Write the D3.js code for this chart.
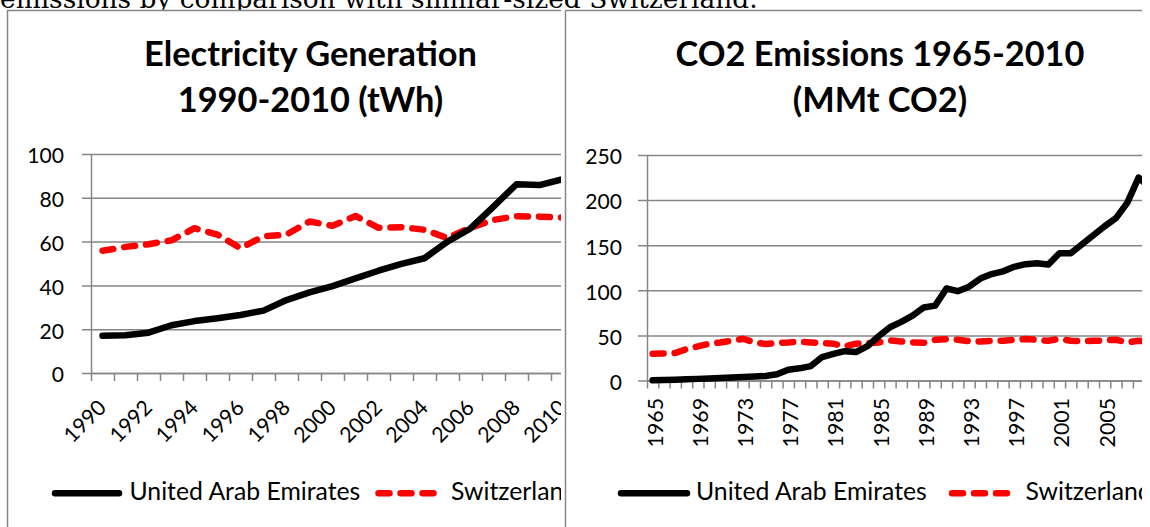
<!DOCTYPE html>
<html>
<head>
<meta charset="utf-8">
<script src="https://cdn.jsdelivr.net/npm/d3@7"></script>
<style>
  body { margin: 0; background: #fff; }
  svg { display: block; }
</style>
</head>
<body>
<div id="page"></div>
<script>
// ---- data ----
var elecYears = ["1990","1991","1992","1993","1994","1995","1996","1997","1998","1999","2000",
  "2001","2002","2003","2004","2005","2006","2007","2008","2009","2010"];
var elecUAE = [17, 17.2, 18.4, 21.8, 23.7, 25, 26.5, 28.5, 33.3, 36.8, 39.7,
  43.2, 46.7, 49.8, 52.4, 60, 66, 76, 86.2, 85.8, 88.5];
var elecSwiss = [55.8, 57.6, 58.8, 60.6, 66.1, 63.2, 57, 62.4, 63.2, 69.2, 67.2,
  71.7, 66.3, 66.6, 65.4, 61.6, 66.4, 69.9, 71.6, 71.4, 71];
var elecTicks = [0, 20, 40, 60, 80, 100];
var elecLabels = ["1990","1992","1994","1996","1998","2000","2002","2004","2006","2008","2010"];

var co2Years = ["1965","1966","1967","1968","1969","1970","1971","1972","1973","1974",
  "1975","1976","1977","1978","1979","1980","1981","1982","1983","1984",
  "1985","1986","1987","1988","1989","1990","1991","1992","1993","1994",
  "1995","1996","1997","1998","1999","2000","2001","2002","2003","2004",
  "2005","2006","2007","2008","2009","2010"];
var co2UAE = [0.2, 0.5, 0.9, 1.3, 1.8, 2.3, 2.8, 3.3, 3.9, 4.4,
  5.0, 7, 12, 13.5, 16, 26, 29.5, 32.5, 31.5, 38,
  49, 59, 65, 72, 81, 83, 102, 99, 104, 113,
  118, 121, 126, 129, 130, 128.5, 141, 141, 151, 161,
  171, 180, 197, 225, 214, 226];
var co2Swiss = [29.6, 30, 30.5, 34.8, 37.8, 40.8, 42.2, 44, 46.3, 42.2,
  40.4, 41.8, 42.2, 43, 42.2, 41.5, 40.8, 37.8, 40.8, 41.5,
  42.2, 44.4, 43.3, 42.2, 41.8, 45.2, 45.9, 45.2, 43.7, 43.3,
  44, 44, 45.2, 45.9, 45.2, 44, 46.3, 44, 43.7, 44,
  44.4, 45.2, 42.2, 44, 43, 44];
var co2Ticks = [0, 50, 100, 150, 200, 250];
var co2Labels = ["1965","1969","1973","1977","1981","1985","1989","1993","1997","2001","2005","2009"];

var seriesNames = ["United Arab Emirates", "Switzerland"];
var headerText = "emissions by comparison with similar-sized Switzerland.";

// ---- page ----
var gray = "#868686";
var font = "Lato, 'Open Sans', sans-serif";
var lineW = 6.5;

var svg = d3.select("#page").append("svg")
  .attr("width", 1150)
  .attr("height", 527);

// measure a string and return the font size that makes it the given width
function fitSize(txt, family, weight, base, target) {
  var t = svg.append("text")
    .attr("font-family", family)
    .attr("font-weight", weight)
    .attr("font-size", base)
    .text(txt);
  var w = t.node().getComputedTextLength();
  t.remove();
  return base * target / w;
}

var titleSize = fitSize("Electricity Generation", font, 700, 30, 333);
var legendSize = fitSize(seriesNames[0], font, 400, 21, 231);
var yTickSize = fitSize("100", font, 400, 21, 36.7);
var xTickSize = fitSize("2000", font, 400, 21, 49.5);
var headerSize = fitSize(headerText, "'DejaVu Serif', serif", 400, 28, 758);

// document text above the charts (mostly hidden behind them)
svg.append("text")
  .attr("x", 0)
  .attr("y", 8)
  .attr("font-family", "'DejaVu Serif', serif")
  .attr("font-size", headerSize)
  .text(headerText);

var defs = svg.append("defs");
defs.append("clipPath").attr("id", "clipL")
  .append("rect").attr("x", 0).attr("y", 0).attr("width", 561).attr("height", 527);
defs.append("clipPath").attr("id", "clipR")
  .append("rect").attr("x", 563).attr("y", 0).attr("width", 579).attr("height", 527);

function drawChart(c) {
  var g = svg.append("g").attr("clip-path", "url(#" + c.clip + ")");

  // chart frame
  g.append("rect")
    .attr("x", c.frameX)
    .attr("y", 10.5)
    .attr("width", c.frameW)
    .attr("height", 600)
    .attr("fill", "#fff")
    .attr("stroke", gray)
    .attr("stroke-width", 1.5);

  var plotW = c.band * c.years.length;
  var x = d3.scaleBand().domain(c.years).range([c.plotX, c.plotX + plotW]);
  var y = d3.scaleLinear().domain([0, c.ticks[c.ticks.length - 1]]).range([c.plotBottom, c.plotTop]);

  // gridlines (with the small outside tick on the left)
  g.append("g")
    .attr("transform", `translate(${c.plotX - 9},0)`)
    .call(d3.axisRight(y).tickValues(c.ticks).tickSize(plotW + 9).tickFormat(""))
    .call(s => s.select(".domain").remove())
    .selectAll("line")
    .attr("stroke", gray)
    .attr("stroke-width", 1.5);

  // y axis + labels
  var yAxis = g.append("g")
    .attr("transform", `translate(${c.plotX},0)`)
    .call(d3.axisLeft(y).tickValues(c.ticks).tickSize(0).tickSizeOuter(0).tickPadding(c.yPad));
  yAxis.select(".domain").attr("stroke", gray).attr("stroke-width", 1.5);
  yAxis.selectAll("text")
    .attr("dy", "0.42em")
    .attr("font-family", font)
    .attr("font-size", yTickSize)
    .attr("fill", "#000");

  // x axis: ticks sit between categories
  var edge = d3.scaleLinear().domain([0, c.years.length]).range([c.plotX, c.plotX + plotW]);
  var xAxis = g.append("g")
    .attr("transform", `translate(0,${c.plotBottom})`)
    .call(d3.axisBottom(edge).tickValues(d3.range(c.years.length + 1)).tickSize(8).tickSizeOuter(0).tickFormat(""));
  xAxis.selectAll("line").attr("stroke", gray).attr("stroke-width", 1.5);
  xAxis.select(".domain").attr("stroke", gray).attr("stroke-width", 1.5);

  // category labels
  var xLab = g.append("g")
    .attr("transform", `translate(0,${c.plotBottom})`)
    .call(d3.axisBottom(x).tickValues(c.labels).tickSize(0));
  xLab.select(".domain").remove();
  xLab.selectAll("text")
    .attr("x", c.lab.dx)
    .attr("y", c.lab.dy)
    .attr("dy", 0)
    .attr("text-anchor", "end")
    .attr("transform", `rotate(${c.lab.rot},${c.lab.dx},${c.lab.dy})`)
    .attr("font-family", font)
    .attr("font-size", xTickSize)
    .attr("fill", "#000");

  // series
  var line = d3.line()
    .x((d, i) => x(c.years[i]) + x.bandwidth() / 2)
    .y(d => y(d));

  g.append("path")
    .datum(c.swiss)
    .attr("d", line)
    .attr("fill", "none")
    .attr("stroke", "#ff0000")
    .attr("stroke-width", lineW)
    .attr("stroke-dasharray", "11,11")
    .attr("stroke-linecap", "round")
    .attr("stroke-linejoin", "round");

  g.append("path")
    .datum(c.uae)
    .attr("d", line)
    .attr("fill", "none")
    .attr("stroke", "#000")
    .attr("stroke-width", lineW)
    .attr("stroke-linecap", "round")
    .attr("stroke-linejoin", "round");

  // title
  var title = g.append("text")
    .attr("text-anchor", "middle")
    .attr("font-family", font)
    .attr("font-weight", 700)
    .attr("font-size", titleSize)
    .attr("fill", "#000");
  c.title.forEach(function(t, i) {
    title.append("tspan").attr("x", c.titleX).attr("y", 65.7 + i * 46).text(t);
  });

  // legend
  var leg = g.append("g");
  leg.append("line")
    .attr("x1", c.leg[0]).attr("x2", c.leg[1])
    .attr("y1", 493.3).attr("y2", 493.3)
    .attr("stroke", "#000").attr("stroke-width", lineW).attr("stroke-linecap", "round");
  leg.append("line")
    .attr("x1", c.leg[3]).attr("x2", c.leg[4])
    .attr("y1", 493.3).attr("y2", 493.3)
    .attr("stroke", "#ff0000").attr("stroke-width", lineW)
    .attr("stroke-dasharray", "11,11").attr("stroke-linecap", "round");
  [c.leg[2], c.leg[5]].forEach(function(lx, i) {
    leg.append("text")
      .attr("x", lx)
      .attr("y", 500)
      .attr("font-family", font)
      .attr("font-size", legendSize)
      .attr("fill", "#000")
      .text(seriesNames[i]);
  });
}

drawChart({
  clip: "clipL", frameX: 7.5, frameW: 620,
  years: elecYears, uae: elecUAE, swiss: elecSwiss, ticks: elecTicks, labels: elecLabels,
  plotX: 91, band: 23, plotTop: 154, plotBottom: 373, yPad: 27,
  lab: {dx: 5, dy: 36, rot: -45},
  title: ["Electricity Generation", "1990-2010 (tWh)"], titleX: 310.5,
  leg: [55, 119, 129.5, 378.5, 433.5, 451]
});

drawChart({
  clip: "clipR", frameX: 565.5, frameW: 640,
  years: co2Years, uae: co2UAE, swiss: co2Swiss, ticks: co2Ticks, labels: co2Labels,
  plotX: 647, band: 11.3, plotTop: 155, plotBottom: 380.5, yPad: 25,
  lab: {dx: 10, dy: 17.5, rot: -90},
  title: ["CO2 Emissions 1965-2010", "(MMt CO2)"], titleX: 880,
  leg: [621, 687, 696, 952, 1007, 1025.5]
});
</script>
</body>
</html>
